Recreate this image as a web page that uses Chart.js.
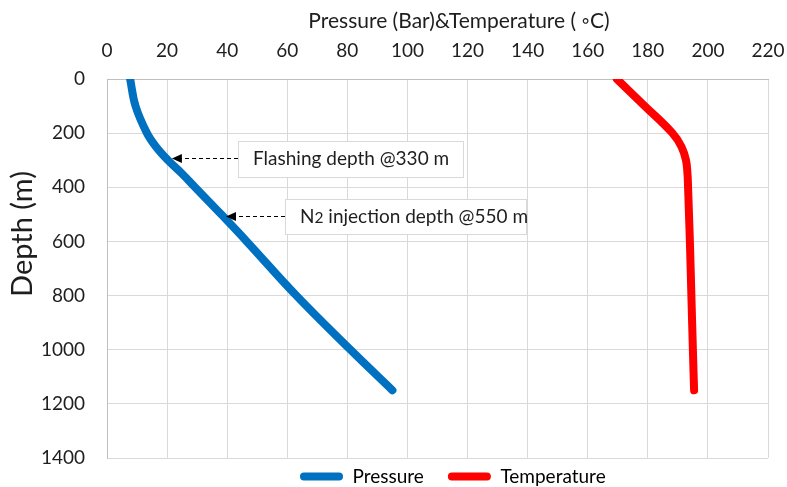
<!DOCTYPE html>
<html>
<head>
<meta charset="utf-8">
<script src="https://cdn.jsdelivr.net/npm/chart.js@4.4.1/dist/chart.umd.min.js"></script>
<style>
  html, body { margin: 0; padding: 0; background: #fff; }
  #wrap { width: 787px; height: 487px; }
</style>
</head>
<body>
<div id="wrap"><canvas id="depthChart" width="787" height="487"></canvas></div>
<script>
// depth of each reading (m)
const depths = [0, 100, 200, 250, 300, 350, 400, 500, 600, 800, 1000, 1150];
const pressure = [7.7, 9.5, 13.3, 16.3, 20.3, 25, 29.3, 38, 46.5, 63, 81, 95];
const temperature = [169.7, 179, 188.2, 191.2, 192.7, 193.2, 193.4, 193.7, 194, 194.5, 195, 195.4];

const xTicks = [0, 20, 40, 60, 80, 100, 120, 140, 160, 180, 200, 220];
const yTicks = [0, 200, 400, 600, 800, 1000, 1200, 1400];

const xTitle = 'Pressure (Bar)&Temperature ( \u25E6C)';
const yTitle = 'Depth (m)';

// callouts: arrow tip and box corners in data units (value, depth)
const notes = [
  { parts: [['Flashing depth @330 m']], tip: [21.6, 292], box: [43.6, 229, 118.5, 362] },
  { parts: [['N'], ['2', true], [' injection depth @550 m']], tip: [39.6, 506], box: [59.2, 443, 139.4, 573] }
];

const FONT = 'Lato, "Open Sans", sans-serif';
const TEXT = '#1e1e1e';
const GRID = '#d9d9d9';
const LEGEND_GAP = 24;

Chart.defaults.font.family = FONT;
Chart.defaults.color = TEXT;

function points(vals) {
  return depths.map((d, i) => ({ x: vals[i], y: d }));
}

const extras = {
  id: 'extras',
  afterLayout(chart) {
    // put the legend where the original sits (legend clips to its own box)
    const lg = chart.legend;
    const lw = lg.lineWidths ? lg.lineWidths[0] : 0;
    const start = (lg.left + LEGEND_GAP + lg.right - lw) / 2;
    const dx = 300 - start;
    lg.left += dx; lg.right += dx;
    lg.top = 467 - LEGEND_GAP; lg.bottom = 487;
  },
  afterDatasetsDraw(chart) {
    const ctx = chart.ctx;
    const xs = chart.scales.x, ys = chart.scales.y;
    ctx.save();
    notes.forEach(n => {
      const x0 = Math.round(xs.getPixelForValue(n.box[0]));
      const y0 = Math.round(ys.getPixelForValue(n.box[1]));
      const x1 = Math.round(xs.getPixelForValue(n.box[2]));
      const y1 = Math.round(ys.getPixelForValue(n.box[3]));
      ctx.fillStyle = '#fff';
      ctx.fillRect(x0, y0, x1 - x0, y1 - y0);
      ctx.strokeStyle = GRID;
      ctx.lineWidth = 1;
      ctx.strokeRect(x0 + 0.5, y0 + 0.5, x1 - x0, y1 - y0);

      const tx = xs.getPixelForValue(n.tip[0]);
      const ty = Math.round(ys.getPixelForValue(n.tip[1])) + 0.5;
      ctx.strokeStyle = '#000';
      ctx.setLineDash([4, 3]);
      ctx.beginPath();
      ctx.moveTo(x0, ty);
      ctx.lineTo(tx + 8, ty);
      ctx.stroke();
      ctx.setLineDash([]);
      ctx.fillStyle = '#000';
      ctx.beginPath();
      ctx.moveTo(tx, ty);
      ctx.lineTo(tx + 10, ty - 4.5);
      ctx.lineTo(tx + 10, ty + 4.5);
      ctx.closePath();
      ctx.fill();

      let x = x0 + 15;
      const y = (y0 + y1) / 2;
      ctx.fillStyle = TEXT;
      ctx.textBaseline = 'middle';
      n.parts.forEach(([t, small]) => {
        ctx.font = (small ? '15.5px ' : '19px ') + FONT;
        ctx.fillText(t, x, y + (small ? 1.5 : 0));
        x += ctx.measureText(t).width;
      });
    });
    ctx.restore();
  },
  afterDraw(chart) {
    const ctx = chart.ctx;
    ctx.save();
    ctx.fillStyle = TEXT;
    ctx.textAlign = 'center';
    ctx.textBaseline = 'middle';
    ctx.font = '21px ' + FONT;
    ctx.fillText(xTitle, 459, 21);
    ctx.translate(23, 234);
    ctx.rotate(-Math.PI / 2);
    ctx.font = '29px ' + FONT;
    ctx.fillText(yTitle, 0, 0);
    ctx.restore();
  }
};

new Chart(document.getElementById('depthChart'), {
  type: 'scatter',
  data: {
    datasets: [
      {
        label: 'Pressure',
        data: points(pressure),
        showLine: true,
        borderColor: '#0070c0',
        backgroundColor: '#0070c0',
        borderWidth: 8,
        pointRadius: 0,
        tension: 0.4,
        borderCapStyle: 'round',
        borderJoinStyle: 'round'
      },
      {
        label: 'Temperature',
        data: points(temperature),
        showLine: true,
        borderColor: '#ff0000',
        backgroundColor: '#ff0000',
        borderWidth: 8,
        pointRadius: 0,
        tension: 0.4,
        borderCapStyle: 'round',
        borderJoinStyle: 'round'
      }
    ]
  },
  options: {
    responsive: false,
    animation: false,
    devicePixelRatio: 1,
    layout: { padding: { left: 0, top: 0, right: 19, bottom: 0 } },
    scales: {
      x: {
        type: 'linear',
        position: 'top',
        min: 0,
        max: 220,
        afterBuildTicks: s => { s.ticks = xTicks.map(v => ({ value: v })); },
        afterFit: s => { s.height = 79; },
        grid: { color: GRID, drawTicks: true, tickLength: 17, tickColor: 'rgba(0,0,0,0)' },
        border: { color: '#bfbfbf' },
        ticks: { padding: 0, font: { size: 19 }, color: TEXT, maxRotation: 0, callback: v => String(v) }
      },
      y: {
        type: 'linear',
        reverse: true,
        min: 0,
        max: 1400,
        afterBuildTicks: s => { s.ticks = yTicks.map(v => ({ value: v })); },
        afterFit: s => { s.width = 107; },
        grid: { color: GRID, drawTicks: true, tickLength: 22, tickColor: 'rgba(0,0,0,0)' },
        border: { color: '#bfbfbf' },
        ticks: { padding: 0, font: { size: 19 }, color: TEXT, callback: v => String(v) }
      }
    },
    plugins: {
      tooltip: { enabled: false },
      legend: {
        position: 'bottom',
        maxHeight: 29,
        labels: {
          boxWidth: 43,
          boxHeight: 8,
          padding: LEGEND_GAP,
          useBorderRadius: true,
          borderRadius: 4,
          color: TEXT,
          font: { size: 19 },
          generateLabels: chart => chart.data.datasets.map((d, i) => ({
            text: d.label,
            fillStyle: d.borderColor,
            strokeStyle: d.borderColor,
            lineWidth: 0,
            hidden: false,
            datasetIndex: i,
            borderRadius: 4
          }))
        }
      }
    }
  },
  plugins: [extras]
});
</script>
</body>
</html>
